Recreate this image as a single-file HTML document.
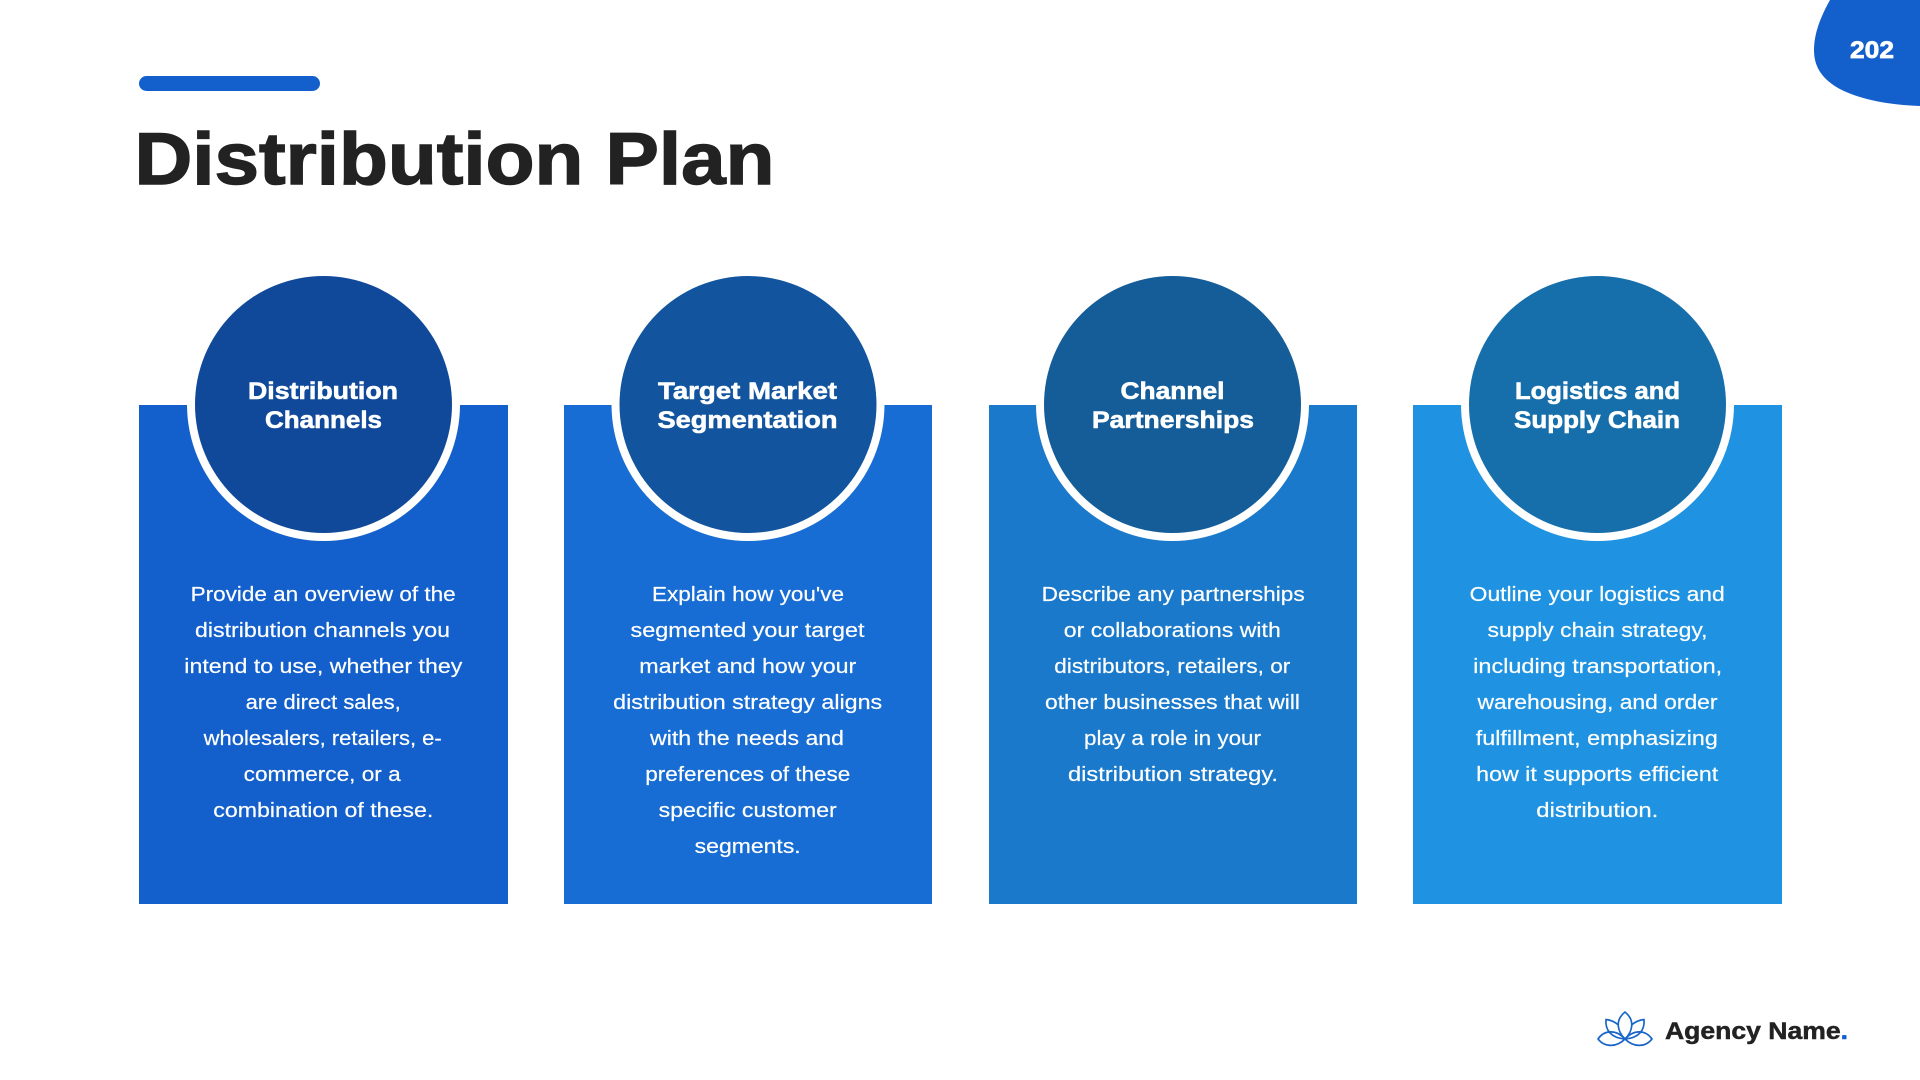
<!DOCTYPE html>
<html><head><meta charset="utf-8"><title>Distribution Plan</title>
<style>
html,body{margin:0;padding:0;background:#fff;width:1920px;height:1080px;overflow:hidden}
svg{display:block}
text{font-family:"Liberation Sans",Arial,sans-serif}
.b{font-size:20px;fill:#fff;stroke:#fff;stroke-width:.2px}
.h{font-size:24.5px;font-weight:700;fill:#fff;stroke:#fff;stroke-width:.6px}
</style></head><body>
<svg width="1920" height="1080" viewBox="0 0 1920 1080" xmlns="http://www.w3.org/2000/svg">
<rect width="1920" height="1080" fill="#fff"/>
<path d="M1830 0C1820 18 1814 34 1814 50C1814 66 1821 78 1838 88C1858 99 1888 105 1920 106V0Z" fill="#1360CC"/>
<text x="1850" y="58" font-size="24" font-weight="700" fill="#fff" stroke="#fff" stroke-width=".7" textLength="44" lengthAdjust="spacingAndGlyphs">202</text>
<rect x="139" y="76" width="181" height="15" rx="7.5" fill="#1360CC"/>
<text x="134.5" y="184" font-size="73" font-weight="700" fill="#222" stroke="#222" stroke-width="1.4" textLength="640" lengthAdjust="spacingAndGlyphs">Distribution Plan</text>

<rect x="139" y="405" width="369" height="499" fill="#1360CC"/>
<rect x="564" y="405" width="368" height="499" fill="#176DD3"/>
<rect x="989" y="405" width="368" height="499" fill="#1A79CB"/>
<rect x="1413" y="405" width="369" height="499" fill="#1F93E2"/>

<circle cx="323.5" cy="404.5" r="136.5" fill="#fff"/><circle cx="323.5" cy="404.5" r="128.5" fill="#10499A"/>
<circle cx="748" cy="404.5" r="136.5" fill="#fff"/><circle cx="748" cy="404.5" r="128.5" fill="#12559E"/>
<circle cx="1172.5" cy="404.5" r="136.5" fill="#fff"/><circle cx="1172.5" cy="404.5" r="128.5" fill="#145D98"/>
<circle cx="1597.5" cy="404.5" r="136.5" fill="#fff"/><circle cx="1597.5" cy="404.5" r="128.5" fill="#166FAB"/>

<g>
<text class="h" x="248" y="399" textLength="150" lengthAdjust="spacingAndGlyphs">Distribution</text>
<text class="h" x="265" y="428" textLength="117" lengthAdjust="spacingAndGlyphs">Channels</text>
<text class="h" x="658" y="399" textLength="179" lengthAdjust="spacingAndGlyphs">Target Market</text>
<text class="h" x="657.5" y="428" textLength="180" lengthAdjust="spacingAndGlyphs">Segmentation</text>
<text class="h" x="1120.5" y="399" textLength="104" lengthAdjust="spacingAndGlyphs">Channel</text>
<text class="h" x="1092" y="428" textLength="162" lengthAdjust="spacingAndGlyphs">Partnerships</text>
<text class="h" x="1515" y="399" textLength="165" lengthAdjust="spacingAndGlyphs">Logistics and</text>
<text class="h" x="1514" y="428" textLength="166" lengthAdjust="spacingAndGlyphs">Supply Chain</text>
</g>

<g>
<text class="b" x="190.7" y="601" textLength="265" lengthAdjust="spacingAndGlyphs">Provide an overview of the</text>
<text class="b" x="195" y="637" textLength="255" lengthAdjust="spacingAndGlyphs">distribution channels you</text>
<text class="b" x="184.3" y="673" textLength="278" lengthAdjust="spacingAndGlyphs">intend to use, whether they</text>
<text class="b" x="245.7" y="709" textLength="155" lengthAdjust="spacingAndGlyphs">are direct sales,</text>
<text class="b" x="203.7" y="745" textLength="238" lengthAdjust="spacingAndGlyphs">wholesalers, retailers, e-</text>
<text class="b" x="243.7" y="781" textLength="157" lengthAdjust="spacingAndGlyphs">commerce, or a</text>
<text class="b" x="213.3" y="817" textLength="220" lengthAdjust="spacingAndGlyphs">combination of these.</text>

<text class="b" x="652" y="601" textLength="192" lengthAdjust="spacingAndGlyphs">Explain how you've</text>
<text class="b" x="630.5" y="637" textLength="234" lengthAdjust="spacingAndGlyphs">segmented your target</text>
<text class="b" x="639.3" y="673" textLength="217" lengthAdjust="spacingAndGlyphs">market and how your</text>
<text class="b" x="613.2" y="709" textLength="269" lengthAdjust="spacingAndGlyphs">distribution strategy aligns</text>
<text class="b" x="650" y="745" textLength="194" lengthAdjust="spacingAndGlyphs">with the needs and</text>
<text class="b" x="645.3" y="781" textLength="205" lengthAdjust="spacingAndGlyphs">preferences of these</text>
<text class="b" x="658.7" y="817" textLength="178" lengthAdjust="spacingAndGlyphs">specific customer</text>
<text class="b" x="694.7" y="853" textLength="106" lengthAdjust="spacingAndGlyphs">segments.</text>

<text class="b" x="1041.7" y="601" textLength="263" lengthAdjust="spacingAndGlyphs">Describe any partnerships</text>
<text class="b" x="1063.8" y="637" textLength="217" lengthAdjust="spacingAndGlyphs">or collaborations with</text>
<text class="b" x="1054.3" y="673" textLength="236" lengthAdjust="spacingAndGlyphs">distributors, retailers, or</text>
<text class="b" x="1045" y="709" textLength="255" lengthAdjust="spacingAndGlyphs">other businesses that will</text>
<text class="b" x="1084" y="745" textLength="177" lengthAdjust="spacingAndGlyphs">play a role in your</text>
<text class="b" x="1068" y="781" textLength="210" lengthAdjust="spacingAndGlyphs">distribution strategy.</text>

<text class="b" x="1469.7" y="601" textLength="255" lengthAdjust="spacingAndGlyphs">Outline your logistics and</text>
<text class="b" x="1487.5" y="637" textLength="220" lengthAdjust="spacingAndGlyphs">supply chain strategy,</text>
<text class="b" x="1473.2" y="673" textLength="249" lengthAdjust="spacingAndGlyphs">including transportation,</text>
<text class="b" x="1477.5" y="709" textLength="240" lengthAdjust="spacingAndGlyphs">warehousing, and order</text>
<text class="b" x="1475.8" y="745" textLength="242" lengthAdjust="spacingAndGlyphs">fulfillment, emphasizing</text>
<text class="b" x="1476.2" y="781" textLength="242" lengthAdjust="spacingAndGlyphs">how it supports efficient</text>
<text class="b" x="1536.3" y="817" textLength="122" lengthAdjust="spacingAndGlyphs">distribution.</text>
</g>

<g fill="none" stroke="#1A66C8" stroke-width="1.7" stroke-linejoin="round">
<path d="M1625 1039C1617 1031 1615 1020 1625 1012C1635 1020 1633 1031 1625 1039Z"/>
<path d="M1625 1039C1611 1038 1605 1030 1606 1019.5C1611 1020 1615 1022 1618.5 1025"/>
<path d="M1625 1039C1639 1038 1645 1030 1644 1019.5C1639 1020 1635 1022 1631.5 1025"/>
<path d="M1625 1039C1616 1029 1604 1030 1598 1039C1605 1048 1617 1047 1625 1039Z"/>
<path d="M1625 1039C1634 1029 1646 1030 1652 1039C1645 1048 1633 1047 1625 1039Z"/>
</g>
<text x="1665" y="1039" font-size="24" font-weight="700" fill="#222" stroke="#222" stroke-width=".5" textLength="183" lengthAdjust="spacingAndGlyphs">Agency Name<tspan fill="#1360CC" stroke="#1360CC">.</tspan></text>
</svg>
</body></html>
